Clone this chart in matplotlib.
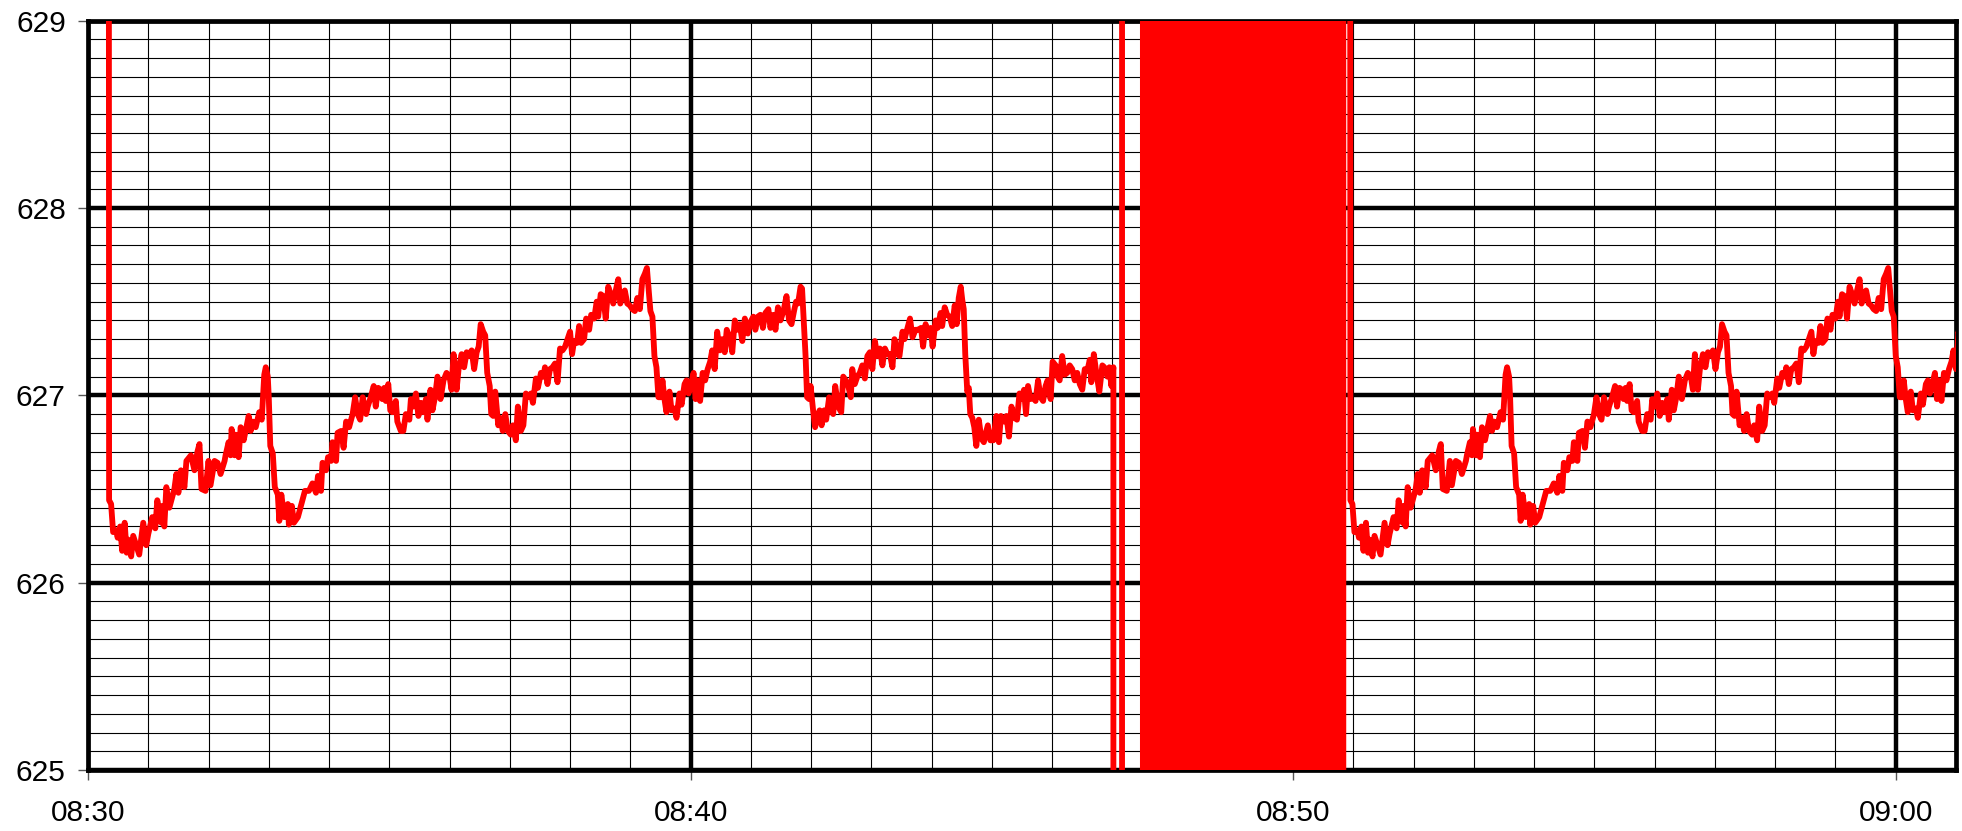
import numpy as np
import matplotlib
matplotlib.use("Agg")
import matplotlib.pyplot as plt
from matplotlib.ticker import MultipleLocator, FuncFormatter

plt.rcParams['font.family'] = ['Liberation Sans', 'DejaVu Sans']

# readings: seconds after 08:30 and value
seg_sec = [20, 21, 23, 25, 28, 29.5, 32, 34, 35, 36.5, 38.5, 40, 43, 45, 48, 51, 55, 58, 60, 64,
           67, 69, 73, 74, 76, 78, 81, 86, 88, 90, 92.5, 96, 98, 102.5, 106, 109, 111, 113, 117, 120,
           122, 126, 129, 132, 136, 137, 140, 142, 143, 146, 147, 150, 152, 155, 160, 162, 164, 167, 170.5, 173,
           175.5, 177, 179, 180, 181.5, 184, 186, 189, 190.5, 192.5, 195.5, 199, 200, 203, 205, 209, 212, 216, 220, 223.5,
           227, 229, 232, 233.5, 237, 239, 242, 243.5, 247, 248.5, 252, 254.5, 257, 260, 263.5, 266, 268.5, 271, 273.5, 277,
           278.5, 281.5, 284.5, 286.5, 289, 291.5, 293, 295, 296.5, 299, 301, 303, 306.5, 308, 311.5, 314, 316.5, 320, 321.5, 324,
           326.5, 329, 331.5, 334, 336.5, 338, 341, 343, 345.5, 348, 351, 354, 357, 360, 362, 364, 367, 369, 372, 374.5,
           377, 379, 382, 384.5, 387, 389, 391, 393.5, 395.5, 397.5, 400, 401.5, 403.5, 405.5, 408.5, 410.5, 413, 415.5, 418, 421,
           423, 426, 428, 431, 433.5, 436, 438, 441, 443, 446, 448, 451, 453.5, 455, 457.5, 460, 462.5, 465, 467.5, 470,
           472.5, 475, 477.5, 480, 482, 484, 487, 489, 491, 494, 496, 499, 501, 504, 506.5, 508, 510.5, 513, 515.5, 518,
           520.5, 523, 525.5, 528, 530, 532, 534.5, 537, 539.5, 542, 544.5, 547, 549.5, 552, 554.5, 556.5, 558, 560, 562, 564,
           566, 568, 570.5, 572, 574, 576, 579, 581, 584, 586, 589, 591, 594, 596, 598, 600.5, 603, 605, 607, 609.5,
           612, 614.5, 617, 619.5, 621.5, 624, 626.5, 629, 631.5, 634, 636, 639, 641.5, 644, 647, 649, 651.5, 654, 657, 659.5,
           662.5, 664.5, 667, 669.5, 672, 674.5, 677.5, 679.5, 682.5, 684.5, 687, 689.5, 692.5, 695.5, 698, 700.5, 703, 705, 707, 709.5,
           711, 713, 714.5, 716, 718, 719.5, 722, 724, 726, 728.5, 730.5, 733, 735, 738, 740, 742, 744, 746, 748, 750,
           752, 754.5, 757, 759.5, 761, 763.5, 766, 768.5, 771, 773.5, 776, 778.5, 781, 783.5, 786, 788.5, 791, 793.5, 796, 798.5,
           801, 803, 806, 808, 811, 813, 816, 818.5, 821, 824, 826.5, 829.5, 831.5, 834, 836, 839, 841, 844, 846, 849,
           850.5, 853, 855.5, 858, 860.5, 863, 865, 867, 869, 870.5, 872, 873.5, 875.5, 877, 878.5, 880.5, 882.5, 884.5, 887, 889.5,
           892, 894.5, 896, 898.5, 901.5, 904.5, 907, 909, 912, 914.5, 917, 919.5, 922.5, 925, 927.5, 929.5, 932, 934, 936, 938.5,
           941, 943.5, 946, 948.5, 951, 953.5, 955.5, 958.5, 960.5, 963.5, 965.5, 967.5, 970, 972.5, 975, 977.5, 980, 982.5, 985, 987.5,
           990, 992.5, 995, 997.5, 999, 1001.5, 1004, 1007, 1010, 1012, 1015, 1017, 1019, 1021]
seg_val = [640, 626.44, 626.42, 626.27, 626.28, 626.24, 626.30, 626.17, 626.23, 626.32, 626.16, 626.23, 626.14, 626.25, 626.20, 626.15, 626.32, 626.20, 626.26, 626.35,
           626.29, 626.44, 626.32, 626.41, 626.30, 626.51, 626.40, 626.50, 626.58, 626.48, 626.60, 626.51, 626.65, 626.68, 626.60, 626.70, 626.74, 626.50, 626.49, 626.65,
           626.52, 626.65, 626.64, 626.58, 626.65, 626.68, 626.75, 626.68, 626.82, 626.68, 626.79, 626.67, 626.83, 626.76, 626.89, 626.81, 626.86, 626.83, 626.91, 626.87,
           627.11, 627.15, 627.10, 626.99, 626.73, 626.69, 626.51, 626.47, 626.33, 626.47, 626.35, 626.42, 626.31, 626.41, 626.32, 626.35, 626.41, 626.49, 626.49, 626.53,
           626.48, 626.57, 626.49, 626.64, 626.60, 626.67, 626.65, 626.75, 626.65, 626.80, 626.81, 626.72, 626.86, 626.83, 626.90, 626.99, 626.90, 626.87, 626.99, 626.90,
           626.94, 626.99, 627.05, 626.94, 627.04, 627.03, 626.98, 627.04, 626.97, 627.06, 626.92, 626.91, 626.97, 626.86, 626.81, 626.81, 626.90, 626.87, 626.98, 626.94,
           627.01, 626.89, 626.96, 626.91, 626.98, 626.87, 627.03, 626.92, 626.99, 627.10, 626.98, 627.08, 627.12, 627.10, 627.03, 627.22, 627.03, 627.14, 627.22, 627.15,
           627.23, 627.21, 627.24, 627.14, 627.23, 627.26, 627.38, 627.34, 627.32, 627.12, 627.05, 626.90, 626.89, 627.02, 626.84, 626.88, 626.81, 626.90, 626.81, 626.79,
           626.84, 626.76, 626.94, 626.81, 626.84, 627.01, 626.99, 627.01, 626.96, 627.09, 627.04, 627.12, 627.10, 627.15, 627.06, 627.14, 627.15, 627.17, 627.07, 627.25,
           627.24, 627.26, 627.30, 627.34, 627.22, 627.29, 627.28, 627.37, 627.28, 627.30, 627.41, 627.35, 627.43, 627.41, 627.50, 627.42, 627.54, 627.53, 627.41, 627.58,
           627.54, 627.49, 627.56, 627.62, 627.49, 627.53, 627.56, 627.49, 627.48, 627.46, 627.45, 627.52, 627.46, 627.62, 627.65, 627.68, 627.58, 627.45, 627.42, 627.21,
           627.15, 626.99, 626.99, 627.08, 626.98, 626.91, 627.02, 626.92, 626.93, 626.88, 627.01, 626.95, 627.06, 627.08, 627.01, 627.06, 627.12, 626.98, 627.08, 626.97,
           627.12, 627.08, 627.14, 627.18, 627.24, 627.14, 627.34, 627.24, 627.30, 627.23, 627.35, 627.31, 627.23, 627.40, 627.35, 627.38, 627.29, 627.41, 627.33, 627.39,
           627.42, 627.35, 627.42, 627.43, 627.36, 627.44, 627.46, 627.36, 627.43, 627.35, 627.47, 627.40, 627.45, 627.53, 627.40, 627.38, 627.45, 627.50, 627.49, 627.58,
           627.57, 627.37, 627.21, 626.99, 626.98, 627.05, 626.92, 626.83, 626.88, 626.92, 626.84, 626.92, 626.87, 626.99, 626.92, 626.90, 627.05, 626.98, 626.93, 626.91,
           627.10, 627.08, 627.05, 626.99, 627.14, 627.06, 627.10, 627.12, 627.16, 627.09, 627.21, 627.23, 627.14, 627.29, 627.21, 627.25, 627.16, 627.25, 627.22, 627.22,
           627.15, 627.30, 627.22, 627.21, 627.34, 627.30, 627.36, 627.41, 627.31, 627.35, 627.35, 627.36, 627.26, 627.38, 627.32, 627.36, 627.26, 627.40, 627.36, 627.44,
           627.37, 627.47, 627.43, 627.42, 627.37, 627.48, 627.38, 627.52, 627.58, 627.51, 627.46, 627.22, 627.02, 627.04, 626.90, 626.88, 626.83, 626.73, 626.87, 626.77,
           626.75, 626.81, 626.84, 626.76, 626.76, 626.89, 626.75, 626.89, 626.86, 626.89, 626.78, 626.94, 626.88, 626.87, 627.01, 626.98, 627.03, 626.90, 627.05, 626.98,
           626.99, 626.97, 627.08, 626.99, 626.97, 627.05, 627.08, 626.98, 627.18, 627.16, 627.10, 627.08, 627.21, 627.11, 627.12, 627.16, 627.14, 627.08, 627.12, 627.06,
           627.03, 627.14, 627.13, 627.19, 627.07, 627.22, 627.12, 627.02, 627.16, 627.15, 627.10, 627.15, 627.05, 627.15]

# dropout: sensor pinned far off the scale, first low, then high
gap_sec = [1021.5, 1029, 1030, 1050]
gap_val = [0, 0, 1000, 1000]

# then it flips between the two limits every few seconds
block_sec = list(np.arange(1051, 1250, 3)) + [1250.5]
block_val = [0, 1000] * 34

# after the dropout the same run of readings comes back
repeat_shift = 1236

sec = seg_sec + gap_sec + block_sec + [s + repeat_shift for s in seg_sec]
val = seg_val + gap_val + block_val[:len(block_sec)] + seg_val
sec, val = np.array(sec, dtype=float), np.array(val, dtype=float)

fig = plt.figure(figsize=(19.62, 8.31), dpi=100)
ax = fig.add_axes([88/1962, 1 - 770/831, (1956 - 88)/1962, (770 - 20.7)/831])

ax.plot(sec/60, val, color='#ff0000', lw=4.2, solid_joinstyle='round', zorder=3)

ax.set_xlim(0, 31)
ax.set_ylim(625, 629)

ax.xaxis.set_major_locator(MultipleLocator(10))
ax.xaxis.set_minor_locator(MultipleLocator(1))
ax.yaxis.set_major_locator(MultipleLocator(1))
ax.yaxis.set_minor_locator(MultipleLocator(0.1))

def hhmm(m, pos):
    tot = 8*60 + 30 + int(round(m))
    return f"{tot//60:02d}:{tot%60:02d}"

ax.xaxis.set_major_formatter(FuncFormatter(hhmm))
ax.yaxis.set_major_formatter(FuncFormatter(lambda v, p: f"{v:.0f}"))

ax.set_axisbelow(True)
ax.grid(which='major', color='black', lw=3.2)
ax.grid(which='minor', color='black', lw=0.8)

ax.tick_params(which='major', direction='out', length=7, width=1, color='#555555', labelsize=21.5)
ax.tick_params(axis='x', which='major', pad=14)
ax.tick_params(axis='y', which='major', pad=9)
ax.tick_params(which='minor', length=0)

for sp in ax.spines.values():
    sp.set_linewidth(3.4)
    sp.set_color('black')

fig.savefig("out.png", dpi=100)
